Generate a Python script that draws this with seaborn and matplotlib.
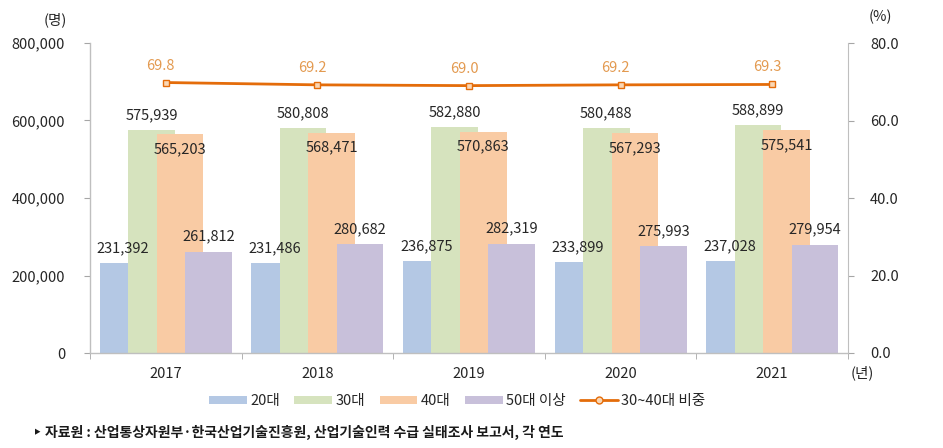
import numpy as np
import pandas as pd
import matplotlib
matplotlib.use("Agg")
import matplotlib.pyplot as plt
import seaborn as sns
from matplotlib.patches import Patch
from matplotlib.lines import Line2D
from matplotlib.ticker import FuncFormatter, FixedLocator

# data
years = ["2017", "2018", "2019", "2020", "2021"]
age20 = [231392, 231486, 236875, 233899, 237028]
age30 = [575939, 580808, 582880, 580488, 588899]
age40 = [565203, 568471, 570863, 567293, 575541]
age50 = [261812, 280682, 282319, 275993, 279954]
share3040 = [69.8, 69.2, 69.0, 69.2, 69.3]

series_names = ["20대", "30대", "40대", "50대 이상"]
line_name = "30~40대 비중"
source_text = "‣ 자료원 : 산업통상자원부·한국산업기술진흥원, 산업기술인력 수급 실태조사 보고서, 각 연도"

sns.set_style("white")
plt.rcParams['font.family'] = ['Noto Sans CJK KR', 'DejaVu Sans']

colors = ["#B4C8E4", "#D6E3BE", "#F9CBA4", "#C8C0DA"]
line_color = "#E46C0A"
txt = "#262626"

fig = plt.figure(figsize=(9.43, 4.48), dpi=100)
ax = fig.add_axes([90 / 943, 1 - 353 / 448, 758 / 943, 310 / 448])

step = 0.188
width = 0.307
offsets = [-1.5 * step, -0.5 * step, 0.5 * step, 1.5 * step]
xpos = np.arange(len(years))

for vals, off, c in zip([age20, age30, age40, age50], offsets, colors):
    df = pd.DataFrame({"x": xpos + off, "v": vals})
    sns.barplot(data=df, x="x", y="v", native_scale=True, width=width,
                color=c, saturation=1, ax=ax, errorbar=None, linewidth=0)

# value labels
for vals, off, inside in zip([age20, age30, age40, age50], offsets,
                             [False, False, True, False]):
    for x, v in zip(xpos, vals):
        dy = -15 if inside else 15
        ax.annotate(f"{v:,}", (x + off, v), xytext=(0, dy),
                    textcoords="offset pixels", ha="center", va="center",
                    fontsize=10.5, color=txt)

ax.set_xlim(-0.5, 4.5)
ax.set_ylim(0, 800000)
ax.set_yticks(np.arange(0, 800001, 200000))
ax.yaxis.set_major_formatter(FuncFormatter(lambda v, p: f"{int(v):,}"))
ax.set_xticks(xpos)
ax.set_xticklabels(years)
ax.xaxis.set_minor_locator(FixedLocator(np.arange(-0.5, 5, 1)))
ax.tick_params(axis="x", which="major", length=0, pad=10, labelsize=10.5, labelcolor=txt)
ax.tick_params(axis="x", which="minor", length=4, color="#A6A6A6", direction="out", bottom=True)
ax.tick_params(axis="y", length=4, color="#A6A6A6", direction="out", left=True,
               labelsize=10.5, labelcolor=txt, pad=14)
ax.set_xlabel("")
ax.set_ylabel("")
for s in ["top", "right"]:
    ax.spines[s].set_visible(False)
for s in ["left", "bottom"]:
    ax.spines[s].set_color("#BFBFBF")
    ax.spines[s].set_linewidth(1.0)

# line on secondary axis
ax2 = ax.twinx()
ldf = pd.DataFrame({"x": xpos, "s": share3040})
sns.lineplot(data=ldf, x="x", y="s", ax=ax2, color=line_color, linewidth=2,
             marker="s", markersize=5, markerfacecolor="#FAD7B5",
             markeredgecolor=line_color, markeredgewidth=1)
for x, v in zip(xpos, share3040):
    ax2.annotate(f"{v:.1f}", (x, v), xytext=(-5, 17), textcoords="offset pixels",
                 ha="center", va="center", fontsize=10.5, color="#E39A50")
ax2.set_ylim(0, 80)
ax2.set_yticks(np.arange(0, 81, 20))
ax2.yaxis.set_major_formatter(FuncFormatter(lambda v, p: f"{v:.1f}"))
ax2.tick_params(axis="y", length=4, color="#A6A6A6", direction="out", right=True,
                labelsize=10.5, labelcolor=txt, pad=12)
ax2.set_xlabel("")
ax2.set_ylabel("")
for s in ["top", "left", "bottom"]:
    ax2.spines[s].set_visible(False)
ax2.spines["right"].set_color("#BFBFBF")
ax2.set_xlim(-0.5, 4.5)

# unit labels
fig.text(55 / 943, 1 - 20 / 448, "(명)", ha="center", va="center", fontsize=10.5, color=txt)
fig.text(880 / 943, 1 - 17 / 448, "(%)", ha="center", va="center", fontsize=10.5, color=txt)
fig.text(851 / 943, 1 - 373 / 448, "(년)", ha="left", va="center", fontsize=10.5, color=txt)

# legend
handles = [Patch(facecolor=c, edgecolor="none") for c in colors]
handles.append(Line2D([0], [0], color=line_color, lw=2, marker="o", markersize=5,
                      markerfacecolor="#FAD7B5", markeredgecolor=line_color))
fig.legend(handles, series_names + [line_name], loc="center",
           bbox_to_anchor=(457 / 943, 1 - 401 / 448), ncol=5, frameon=False,
           fontsize=10.5, handlelength=2.6, handleheight=0.5, columnspacing=1.0,
           handletextpad=0.2, labelcolor=txt)

fig.text(33 / 943, 1 - 432 / 448, source_text, ha="left", va="center",
         fontsize=10, fontweight="bold", color="#1a1a1a")

fig.savefig("out.png", dpi=100)
